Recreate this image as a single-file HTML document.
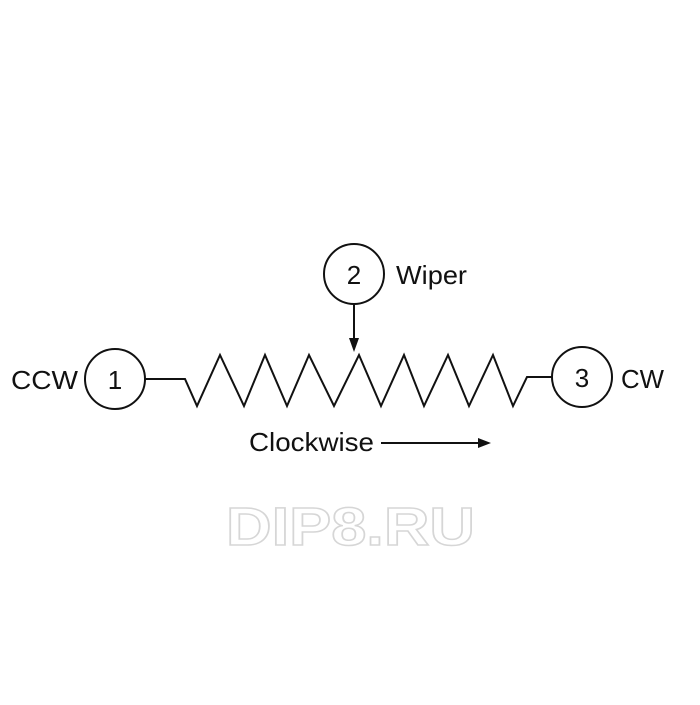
<!DOCTYPE html>
<html><head><meta charset="utf-8"><style>body{margin:0;background:#fff}</style></head>
<body>
<svg width="700" height="700" viewBox="0 0 700 700" xmlns="http://www.w3.org/2000/svg" font-family="Liberation Sans, sans-serif">
<g fill="none" stroke="#111" stroke-width="2">
<circle cx="115" cy="379" r="30"/>
<circle cx="354" cy="274" r="30"/>
<circle cx="582" cy="377" r="30"/>
<polyline points="145,379 185,379 197,406 220,355 244,406 265,355 287,406 309,355 334,406 359,355 381,406 404,355 424,406 448,355 469,406 493,355 513,406 527,377 552,377"/>
<line x1="354" y1="304" x2="354" y2="340"/>
<line x1="381" y1="443" x2="480" y2="443"/>
</g>
<polygon points="349,338 359,338 354,352" fill="#111"/>
<polygon points="478,438 491,443 478,448" fill="#111"/>
<g fill="#111" font-size="26">
<text x="115" y="389" text-anchor="middle">1</text>
<text x="354" y="284" text-anchor="middle">2</text>
<text x="582" y="387" text-anchor="middle">3</text>
<text x="11" y="389" textLength="67" lengthAdjust="spacingAndGlyphs">CCW</text>
<text x="621" y="388" textLength="43" lengthAdjust="spacingAndGlyphs">CW</text>
<text x="396" y="284" textLength="71" lengthAdjust="spacingAndGlyphs">Wiper</text>
<text x="249" y="451" textLength="125" lengthAdjust="spacingAndGlyphs">Clockwise</text>
</g>
<text x="226" y="545" font-size="54" font-weight="bold" fill="none" stroke="#d6d6d6" stroke-width="1.5" textLength="249" lengthAdjust="spacingAndGlyphs">DIP8.RU</text>
</svg>
</body></html>
